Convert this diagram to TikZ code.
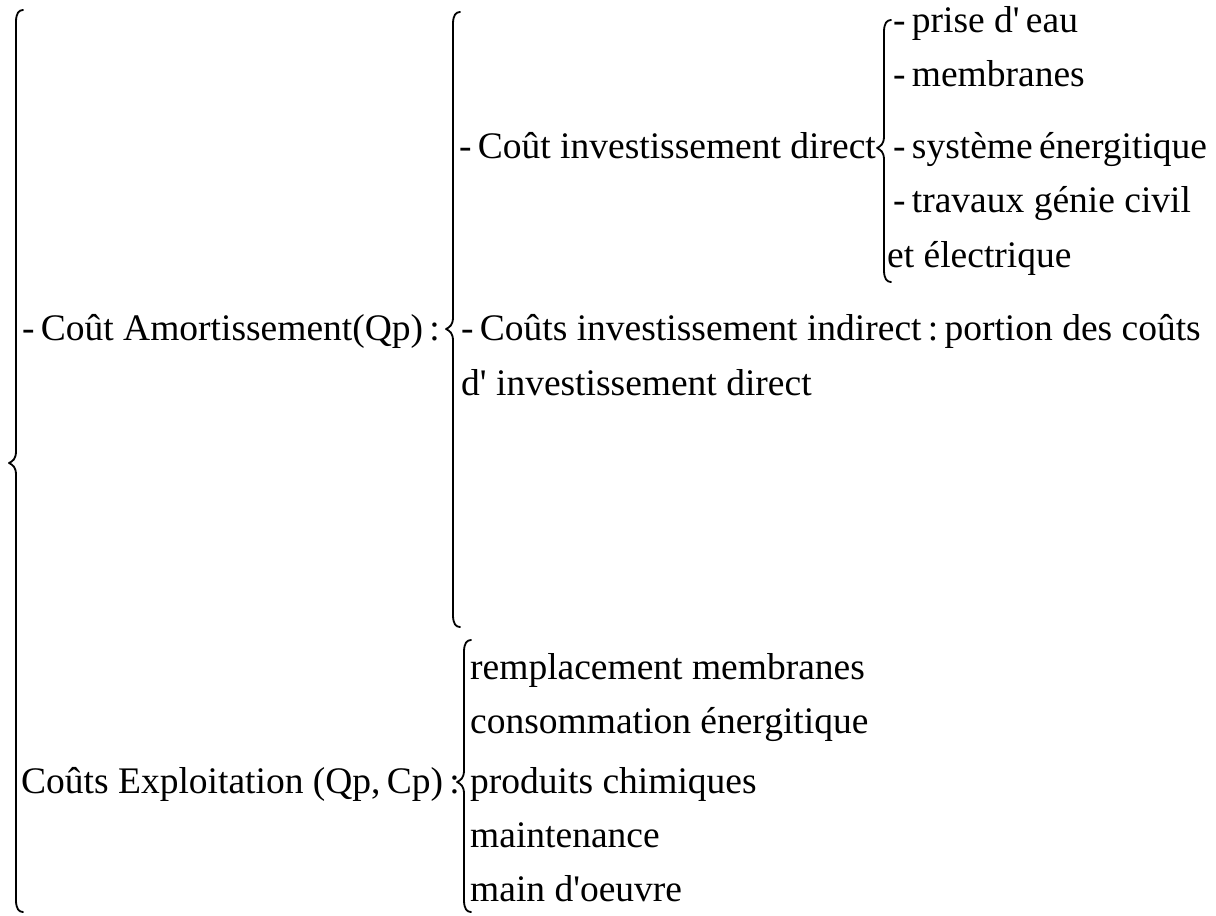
\documentclass[tikz,border=0pt]{standalone}
\usepackage{fontspec}
\setmainfont{Liberation Serif}
\newcommand\apos{\textquotesingle}
\begin{document}
% units are pixels of a 1216 x 916 sheet, y grows downwards
\begin{tikzpicture}[x=1pt,y=-1pt,
  label/.style={anchor=base west,inner sep=0pt,font=\fontsize{37.5}{45}\selectfont},
  bracestroke/.style={line width=1.8pt,line cap=round,line join=round}]
\useasboundingbox (0,0) rectangle (1216,916);

% a left curly brace: #1 = x of its stem, #2 = top, #3 = tip, #4 = bottom
\newcommand\curlybrace[4]{%
  \draw[bracestroke] (#1+7,#2) .. controls (#1+3,#2) and (#1,#2+3) .. (#1,#2+12)
    -- (#1,#3-12) .. controls (#1,#3-4) and (#1-3,#3-2) .. (#1-7,#3)
    .. controls (#1-3,#3+2) and (#1,#3+4) .. (#1,#3+12)
    -- (#1,#4-12) .. controls (#1,#4-3) and (#1+3,#4) .. (#1+7,#4);}

% first level
\curlybrace{16}{10}{463}{912}
\node[label] (amort) at (22,340) {-\,Coût Amortissement(Qp)\,:};
\node[label] (exploit) at (21,793) {Coûts Exploitation (Qp,\,Cp)\,:};

% amortisation costs
\curlybrace{453}{12}{329}{627}
\node[label] (direct) at (459,158) {-\,Coût investissement direct};
\node[label] (indirect) at (461,340) {-\,Coûts investissement indirect\,:\,portion des coûts};
\node[label] (indirect2) at (461,395) {d\apos\ investissement direct};

% direct investment items
\curlybrace{884}{20}{148}{282}
\node[label] (d1) at (893,32) {-\,prise d\apos\,eau};
\node[label] (d2) at (893,86) {-\,membranes};
\node[label] (d3) at (893,158) {-\,système\,énergitique};
\node[label] (d4) at (893,212) {-\,travaux génie civil};
\node[label] (d5) at (887,267) {et électrique};

% operating costs
\curlybrace{464}{640}{782}{912}
\node[label] (e1) at (470,679) {remplacement membranes};
\node[label] (e2) at (470,733) {consommation énergitique};
\node[label] (e3) at (470,793) {produits chimiques};
\node[label] (e4) at (470,847) {maintenance};
\node[label] (e5) at (470,901) {main d\apos oeuvre};
\end{tikzpicture}
\end{document}
